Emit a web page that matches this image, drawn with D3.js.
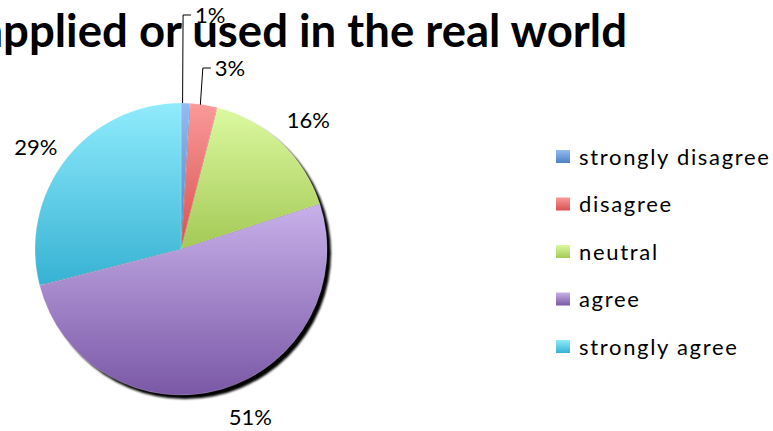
<!DOCTYPE html>
<html>
<head>
<meta charset="utf-8">
<script src="https://cdn.jsdelivr.net/npm/d3@7"></script>
<style>
  html, body { margin: 0; padding: 0; background: #fff; }
  svg { display: block; }
</style>
</head>
<body>
<svg id="chart" width="773" height="431"></svg>
<script>
// Survey responses (percent of respondents)
const categories = ["strongly disagree", "disagree", "neutral", "agree", "strongly agree"];
const percents = [1, 3, 16, 51, 29];
const titleText = "applied or used in the real world";

// Slice palette: light top to darker bottom
const topColors = ["#95bbf2", "#fa9a9a", "#dcf9a0", "#c8b1ea", "#90ebfc"];
const bottomColors = ["#4e80c4", "#d9504e", "#a4c956", "#7a58a6", "#36b2d3"];

const W = 773, H = 431;
const cx = 181, cy = 249, R = 146;

const svg = d3.select("#chart");
svg.append("rect").attr("width", W).attr("height", H).attr("fill", "#fff");

const defs = svg.append("defs");
categories.forEach((c, i) => {
  const g = defs.append("linearGradient")
    .attr("id", "grad" + i)
    .attr("x1", 0).attr("y1", 0).attr("x2", 0).attr("y2", 1);
  g.append("stop").attr("offset", "0%").attr("stop-color", topColors[i]);
  g.append("stop").attr("offset", "100%").attr("stop-color", bottomColors[i]);
});
const blur = defs.append("filter").attr("id", "soft")
  .attr("x", "-10%").attr("y", "-10%").attr("width", "120%").attr("height", "120%");
blur.append("feGaussianBlur").attr("stdDeviation", 0.8);

const data = categories.map((c, i) => ({ category: c, value: percents[i], idx: i }));

const pie = d3.pie().sort(null).value(d => d.value).startAngle(0).endAngle(2 * Math.PI);
const arcs = pie(data);
const arc = d3.arc().innerRadius(0).outerRadius(R);

// Title (runs past the left edge); sized so the visible part spans the header
const titleFont = "Lato, 'Open Sans', sans-serif";
const probe = svg.append("text")
  .attr("font-family", titleFont).attr("font-weight", "bold").attr("font-size", 40)
  .text(titleText.slice(1));
const probeLen = probe.node().getComputedTextLength();
probe.remove();
const titleSize = 40 * 624 / probeLen;

svg.append("text")
  .attr("x", 627).attr("y", 47)
  .attr("text-anchor", "end")
  .attr("font-family", titleFont)
  .attr("font-weight", "bold")
  .attr("font-size", titleSize.toFixed(2))
  .attr("fill", "#000")
  .text(titleText);

const pieG = svg.append("g").attr("transform", `translate(${cx},${cy})`);

// Drop shadow behind the pie
pieG.append("path")
  .attr("d", d3.arc().innerRadius(0).outerRadius(R)({ startAngle: 0, endAngle: 2 * Math.PI }))
  .attr("transform", "translate(4,4)")
  .attr("fill", "#000")
  .attr("filter", "url(#soft)");

pieG.selectAll("path.slice")
  .data(arcs)
  .join("path")
  .attr("class", "slice")
  .attr("d", arc)
  .attr("fill", d => `url(#grad${d.data.idx})`)
  .attr("stroke", "rgba(255,255,255,0.35)")
  .attr("stroke-width", 0.6);

// Data labels
const labelFont = "Lato, 'Open Sans', sans-serif";
const labelSize = 22;
const labelR = R + 34;
const nudges = { "agree": [19, -5], "neutral": [4, 2], "strongly agree": [-3, 9] };
const smallLabelY = [-R - 88, -R - 35];
let smallCount = 0;

arcs.forEach(d => {
  const mid = (d.startAngle + d.endAngle) / 2;
  const sx = Math.sin(mid), sy = -Math.cos(mid);
  const txt = d.data.value + "%";
  if (d.data.value < 5) {
    // Small slices: leader line up to a label above the pie
    const ax = sx * R, ay = sy * R;
    const ly = smallLabelY[smallCount++];
    const bx = ax + (smallCount === 1 ? -2.5 : -1);
    pieG.append("path")
      .attr("d", d3.line()([[ax - (smallCount === 1 ? 3 : 3.5), ay], [bx, ly], [bx + 8, ly]]))
      .attr("fill", "none")
      .attr("stroke", "#000")
      .attr("stroke-width", 1);
    pieG.append("text")
      .attr("x", bx + 12).attr("y", ly)
      .attr("dy", "0.35em")
      .attr("font-family", labelFont)
      .attr("font-size", labelSize)
      .attr("fill", "#000")
      .text(txt);
  } else {
    const n = nudges[d.data.category] || [0, 0];
    pieG.append("text")
      .attr("x", sx * labelR + n[0]).attr("y", sy * labelR + n[1])
      .attr("dy", "0.35em")
      .attr("text-anchor", "middle")
      .attr("font-family", labelFont)
      .attr("font-size", labelSize)
      .attr("fill", "#000")
      .text(txt);
  }
});

// Legend
const ly = d3.scalePoint().domain(categories).range([157, 347]);
const legend = svg.append("g");
const items = legend.selectAll("g").data(data).join("g")
  .attr("transform", d => `translate(556,${ly(d.category)})`);
items.append("rect")
  .attr("x", 0).attr("y", -7).attr("width", 14).attr("height", 13)
  .attr("fill", d => `url(#grad${d.idx})`);
const legText = items.append("text")
  .attr("x", 23).attr("y", 0)
  .attr("dy", "0.35em")
  .attr("font-family", labelFont)
  .attr("font-size", 22)
  .attr("fill", "#000")
  .text(d => d.category);

// Spread legend letters so the longest entry spans its measured width
const longest = legText.filter(d => d.category === "strongly disagree").node();
const baseLen = longest.getComputedTextLength();
const spacing = (190 - baseLen) / (categories[0].length - 1);
legText.attr("letter-spacing", spacing.toFixed(2));
</script>
</body>
</html>
